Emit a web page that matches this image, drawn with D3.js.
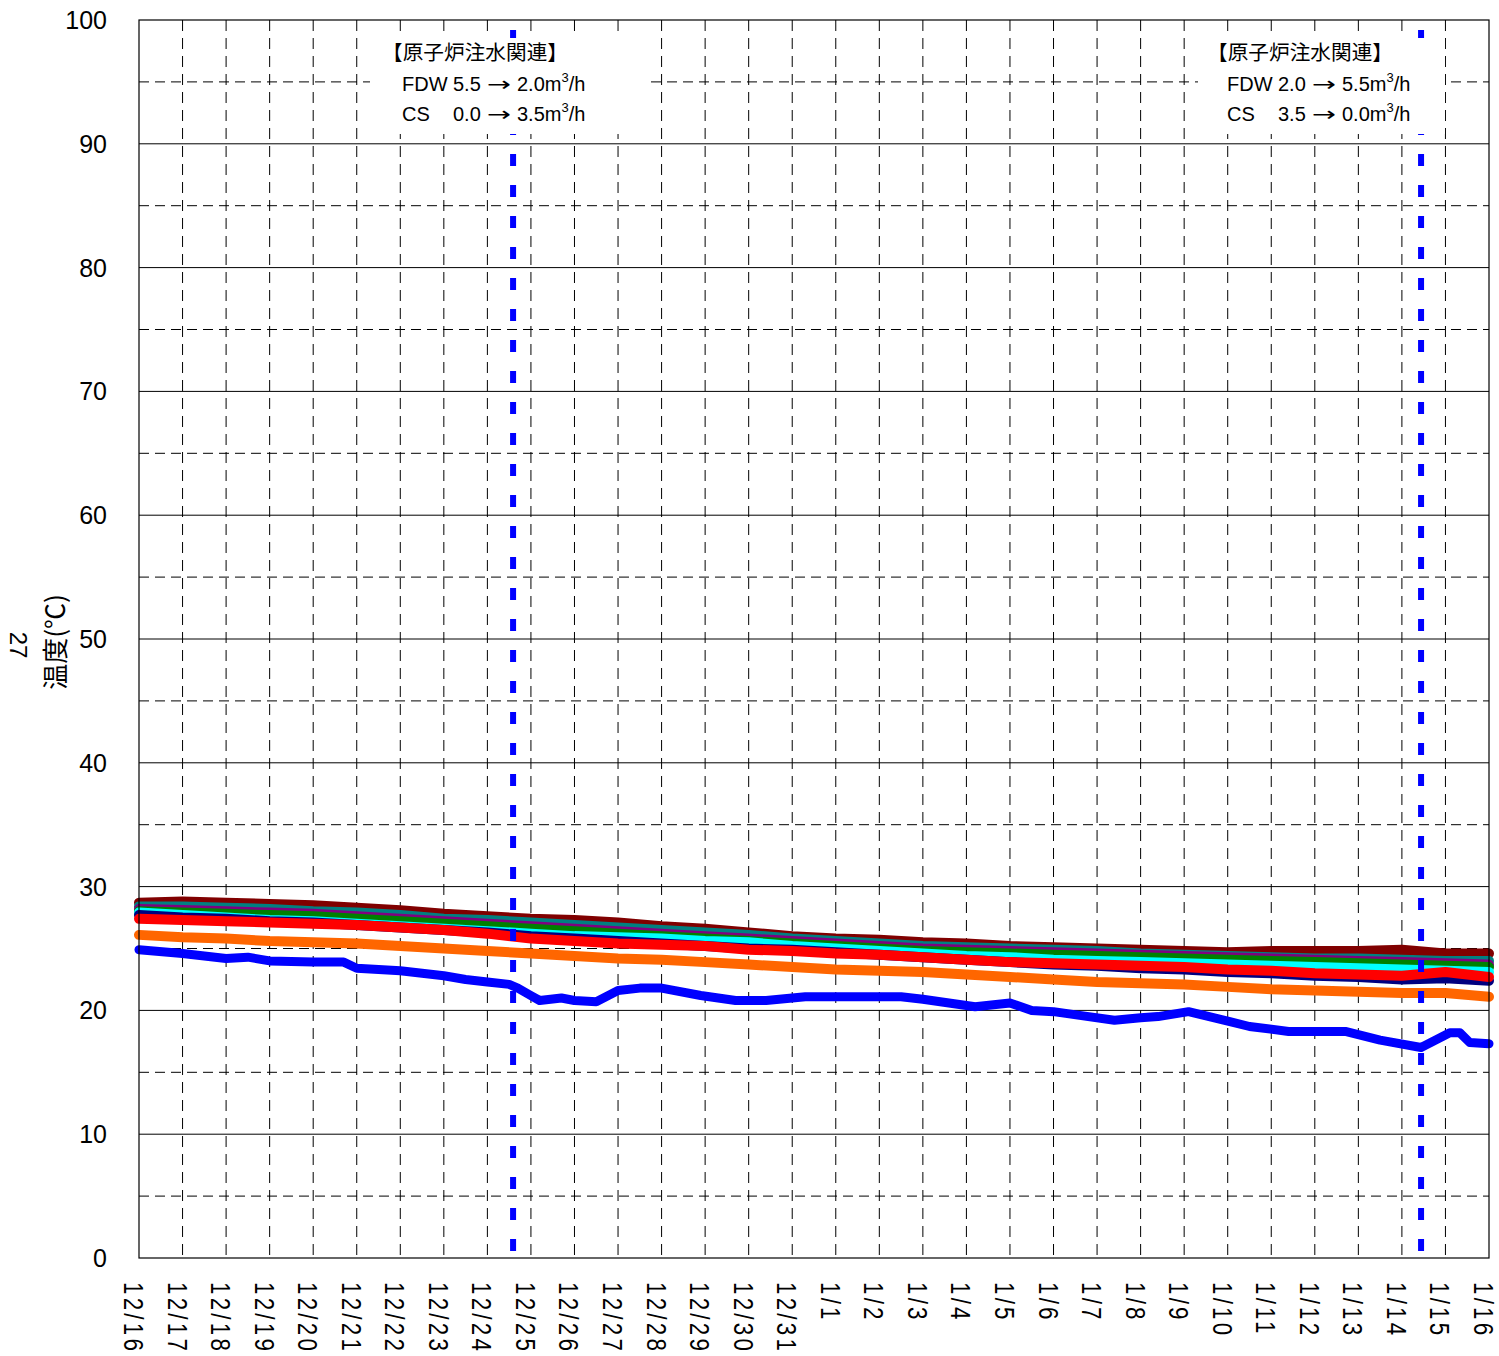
<!DOCTYPE html>
<html><head><meta charset="utf-8">
<script src="https://cdn.jsdelivr.net/npm/d3@7"></script>
<style>body{margin:0;background:#fff}svg{display:block}</style>
</head><body>
<svg id="c" width="1499" height="1356"></svg>
<script>
const dateLabels = ["12/16","12/17","12/18","12/19","12/20","12/21","12/22","12/23","12/24","12/25","12/26","12/27","12/28","12/29","12/30","12/31","1/1","1/2","1/3","1/4","1/5","1/6","1/7","1/8","1/9","1/10","1/11","1/12","1/13","1/14","1/15","1/16"];
const yTicks = [0,10,20,30,40,50,60,70,80,90,100];
const dayIdx = d3.range(32);

const maroon = [28.7,28.8,28.7,28.6,28.5,28.3,28.1,27.8,27.6,27.4,27.3,27.1,26.8,26.6,26.3,26.0,25.8,25.7,25.5,25.4,25.2,25.1,25.0,24.9,24.8,24.7,24.8,24.8,24.8,24.9,24.6,24.6];
const teal   = [28.4,28.4,28.3,28.2,28.0,27.9,27.7,27.4,27.3,27.1,26.9,26.7,26.5,26.3,26.1,25.8,25.6,25.4,25.2,25.1,25.0,24.9,24.8,24.6,24.5,24.4,24.3,24.2,24.2,24.1,24.0,24.0];
const purple = [28.2,28.1,28.0,27.9,27.8,27.6,27.4,27.2,27.0,26.8,26.6,26.4,26.2,26.0,25.8,25.6,25.4,25.2,25.0,24.9,24.8,24.7,24.6,24.5,24.4,24.3,24.2,24.1,24.0,23.9,23.8,23.7];
const green  = [28.0,27.9,27.8,27.7,27.6,27.4,27.2,27.0,26.8,26.6,26.4,26.2,26.0,25.8,25.6,25.4,25.2,25.0,24.8,24.7,24.6,24.5,24.4,24.3,24.2,24.1,24.0,23.9,23.8,23.7,23.6,23.5];
const cyan   = [27.9,27.7,27.5,27.3,27.2,27.0,26.8,26.6,26.4,26.2,26.0,25.9,25.8,25.6,25.5,25.2,25.0,24.8,24.6,24.4,24.3,24.1,24.0,23.9,23.8,23.7,23.6,23.5,23.4,23.3,23.2,23.1];
const navy   = [27.7,27.5,27.4,27.2,27.1,26.9,26.7,26.5,26.3,26.0,25.8,25.6,25.4,25.2,25.0,24.9,24.7,24.5,24.3,24.1,23.9,23.7,23.6,23.4,23.3,23.1,23.0,22.8,22.7,22.5,22.6,22.4];
const red    = [27.4,27.3,27.2,27.1,27.0,26.9,26.7,26.5,26.2,25.8,25.6,25.4,25.3,25.2,24.9,24.8,24.6,24.5,24.3,24.1,23.9,23.8,23.7,23.6,23.5,23.3,23.2,23.0,22.9,22.8,23.1,22.7];
const orange = [26.1,25.9,25.8,25.6,25.5,25.4,25.2,25.0,24.8,24.6,24.4,24.2,24.1,23.9,23.7,23.5,23.3,23.2,23.1,22.9,22.7,22.5,22.3,22.2,22.1,21.9,21.7,21.6,21.5,21.4,21.4,21.1];
const blueX  = [0,1,2,2.5,3,4,4.7,5,6,7,7.5,8,8.5,8.7,9,9.2,9.7,10,10.5,11,11.5,12,12.9,13.7,14.4,15.3,16.5,17.5,18,18.6,19.2,20,20.5,21,21.6,22.4,23,23.4,24.1,25.05,25.5,26.4,27.7,28.5,29.44,30.1,30.33,30.56,31];
const blueY  = [24.9,24.6,24.2,24.3,24.0,23.9,23.9,23.4,23.2,22.8,22.5,22.3,22.1,21.8,21.2,20.8,21.0,20.8,20.7,21.6,21.8,21.8,21.2,20.8,20.8,21.1,21.1,21.1,20.9,20.6,20.3,20.6,20.0,19.9,19.6,19.2,19.4,19.5,19.9,19.1,18.7,18.3,18.3,17.6,17.0,18.2,18.2,17.4,17.3];
const eventDays = [8.59, 29.44];
const notes = [
  {title:"【原子炉注水関連】", rows:[["FDW","5.5","2.0m"],["CS","0.0","3.5m"]]},
  {title:"【原子炉注水関連】", rows:[["FDW","2.0","5.5m"],["CS","3.5","0.0m"]]}
];

const svg = d3.select("#c");
const L=139, R=1489, T=20, B=1258;
const x = d3.scaleLinear().domain([0,31]).range([L,R]);
const y = d3.scaleLinear().domain([0,100]).range([B,T]);
const numFont = "'Liberation Sans', Arial, sans-serif";
const jpFont = "'Noto Sans CJK JP', sans-serif";

// grid
const g = svg.append("g");
g.selectAll(".vg").data(d3.range(1,31)).join("line")
  .attr("x1",d=>x(d)).attr("x2",d=>x(d)).attr("y1",T).attr("y2",B)
  .attr("stroke","#000").attr("stroke-width",1).attr("stroke-dasharray","11,7");
g.selectAll(".hd").data(d3.range(5,100,10)).join("line")
  .attr("x1",L).attr("x2",R).attr("y1",d=>y(d)).attr("y2",d=>y(d))
  .attr("stroke","#000").attr("stroke-width",1).attr("stroke-dasharray","10,6");
g.selectAll(".hs").data(yTicks.slice(1,10)).join("line")
  .attr("x1",L).attr("x2",R).attr("y1",d=>y(d)).attr("y2",d=>y(d))
  .attr("stroke","#000").attr("stroke-width",1);

// series
const line = d3.line().x(d=>x(d[0])).y(d=>y(d[1]));
const series = [
  {v:maroon,c:"#800000"},{v:teal,c:"#008080"},{v:purple,c:"#800080"},{v:green,c:"#008000"},
  {v:cyan,c:"#00ffff"},{v:navy,c:"#000080"},{v:red,c:"#ff0000"},{v:orange,c:"#ff6600"}
];
const sg = svg.append("g");
series.forEach(s=>{
  sg.append("path").datum(dayIdx.map(i=>[i,s.v[i]])).attr("d",line)
    .attr("fill","none").attr("stroke",s.c).attr("stroke-width",10)
    .attr("stroke-linecap","round").attr("stroke-linejoin","round");
});
sg.append("path").datum(blueX.map((d,i)=>[d,blueY[i]])).attr("d",line)
  .attr("fill","none").attr("stroke","#0000ff").attr("stroke-width",9)
  .attr("stroke-linecap","round").attr("stroke-linejoin","round");

// event lines
svg.selectAll(".ev").data(eventDays).join("line")
  .attr("x1",d=>x(d)).attr("x2",d=>x(d)).attr("y1",30).attr("y2",1266)
  .attr("stroke","#0000ff").attr("stroke-width",6).attr("stroke-dasharray","12,19");

// frame
svg.append("rect").attr("x",L).attr("y",T).attr("width",R-L).attr("height",B-T)
  .attr("fill","none").attr("stroke","#000").attr("stroke-width",1.2);

// notes
const boxes = [[370,275],[1198,247]];
const bases = [402,1227];
notes.forEach((n,i)=>{
  svg.append("rect").attr("x",boxes[i][0]).attr("y",38).attr("width",boxes[i][1]).attr("height",96).attr("fill","#fff");
  const bx = bases[i];
  svg.append("text").attr("x",bx-20).attr("y",60).attr("font-family",jpFont).attr("font-size",20.5)
    .attr("textLength",186).attr("lengthAdjust","spacingAndGlyphs").text(n.title);
  n.rows.forEach((r,j)=>{
    const yy = 91+j*30;
    const tf = (xx,t,f)=>svg.append("text").attr("x",xx).attr("y",yy).attr("font-family",f||numFont).attr("font-size",20).text(t);
    tf(bx,r[0]);
    tf(bx+51,r[1]);
    tf(bx+85,"→","'DejaVu Sans', sans-serif").attr("font-size",20).attr("textLength",24).attr("lengthAdjust","spacingAndGlyphs");
    const t = tf(bx+115,r[2]);
    t.append("tspan").attr("dy",-9).attr("font-size",13).text("3");
    t.append("tspan").attr("dy",9).text("/h");
  });
});

// y tick labels
svg.selectAll(".yl").data(yTicks).join("text")
  .attr("x",107).attr("y",d=>y(d)+9).attr("text-anchor","end")
  .attr("font-family",numFont).attr("font-size",25).text(d=>d);

// x tick labels
svg.selectAll(".xl").data(dateLabels).join("text")
  .attr("transform",(d,i)=>`translate(${x(i)-15},1282) rotate(90) scale(0.8,1)`)
  .attr("font-family",numFont).attr("font-size",28).attr("letter-spacing",4).text(d=>d);

// y axis titles
svg.append("text").attr("transform","translate(65,642) rotate(-90)").attr("text-anchor","middle")
  .attr("font-family",jpFont).attr("font-size",26).text("温度(℃)");
svg.append("text").attr("transform","translate(10,645) rotate(90)").attr("text-anchor","middle")
  .attr("font-family",numFont).attr("font-size",24).text("27");
</script>
</body></html>
